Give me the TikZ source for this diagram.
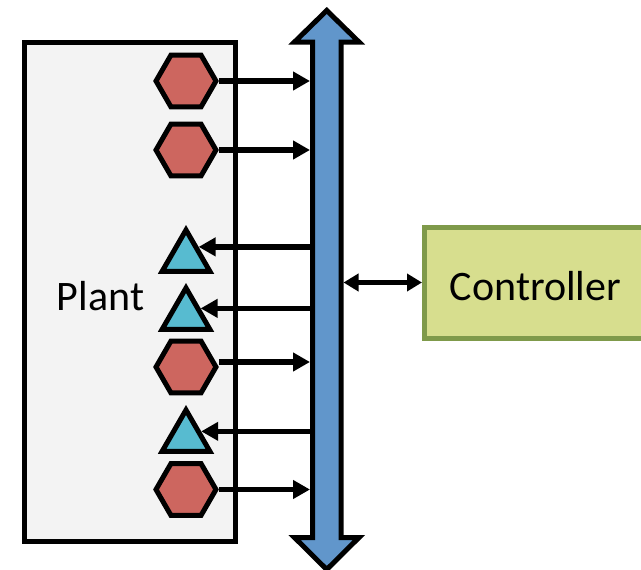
\documentclass[tikz,border=0pt]{standalone}
\usepackage{fontspec}
\setmainfont{Carlito}
\usetikzlibrary{shapes.geometric,arrows.meta}
\definecolor{hexred}{HTML}{CD665F}
\definecolor{tricyan}{HTML}{57BBD0}
\definecolor{busblue}{HTML}{6196CB}
\definecolor{plantgray}{HTML}{F3F3F3}
\definecolor{ctrlfill}{HTML}{D7DE8E}
\definecolor{ctrldraw}{HTML}{7F9A4A}
\tikzset{
  hexnode/.style={regular polygon, regular polygon sides=6, minimum size=60pt, inner sep=0pt,
    draw=black, line width=5pt, fill=hexred},
  trinode/.style={regular polygon, regular polygon sides=3, minimum size=55pt, inner sep=0pt,
    draw=black, line width=5pt, fill=tricyan},
  sig/.style={line width=5.5pt, -{Triangle[length=17pt,width=18pt]}},
  bisig/.style={line width=5pt, {Triangle[length=15pt,width=17pt]}-{Triangle[length=15pt,width=17pt]}},
  lbl/.style={font=\fontsize{42}{50}\selectfont}
}
\begin{document}
\begin{tikzpicture}[x=1pt,y=-1pt,line join=miter]
\useasboundingbox (0,0) rectangle (641,570);
\clip (0,0) rectangle (641,570);

% plant
\node[draw=black, line width=5pt, fill=plantgray, minimum width=211pt, minimum height=499pt, inner sep=0pt] (plant) at (130,292) {};
\node[lbl, anchor=base, inner sep=0pt] (plantlbl) at (100.5,310) {Plant};

% bus
\filldraw[fill=busblue, draw=black, line width=5pt]
  (312.5,42) -- (294.5,42) -- (326.75,10.5) -- (359,42) -- (341,42)
  -- (341,537.5) -- (359,537.5) -- (326.75,569.5) -- (294.5,537.5) -- (312.5,537.5) -- cycle;
\coordinate (busL) at (310,0);
\coordinate (busR) at (343.5,0);

% sensors (hexagons) and actuators (triangles)
\node[hexnode] (h1) at (186,81) {};
\node[hexnode] (h2) at (186,150) {};
\node[trinode] (t1) at (186,257.5) {};
\node[trinode] (t2) at (186,315.5) {};
\node[hexnode] (h3) at (186,367) {};
\node[trinode] (t3) at (186,437.5) {};
\node[hexnode] (h4) at (186,489.5) {};

\coordinate (h3out) at ([yshift=5pt]h3.east);

\draw[sig] (h1.east) -- (h1.east -| busL);
\draw[sig] (h2.east) -- (h2.east -| busL);
\draw[sig] (h3out) -- (h3out -| busL);
\draw[sig] (h4.east) -- (h4.east -| busL);
\draw[sig] (t1.40 -| busL) -- (t1.40);
\draw[sig] (t2.26 -| busL) -- (t2.26);
\draw[sig] (t3.22 -| busL) -- (t3.22);

% controller
\node[draw=ctrldraw, line width=5pt, fill=ctrlfill, minimum width=222pt, minimum height=111pt, inner sep=0pt] (ctrl) at (535.5,282.5) {};
\node[lbl, anchor=base, inner sep=0pt] (ctrllbl) at (535.5,300) {Controller};
\draw[bisig] (ctrl.west -| busR) -- (ctrl.west);
\end{tikzpicture}
\end{document}
